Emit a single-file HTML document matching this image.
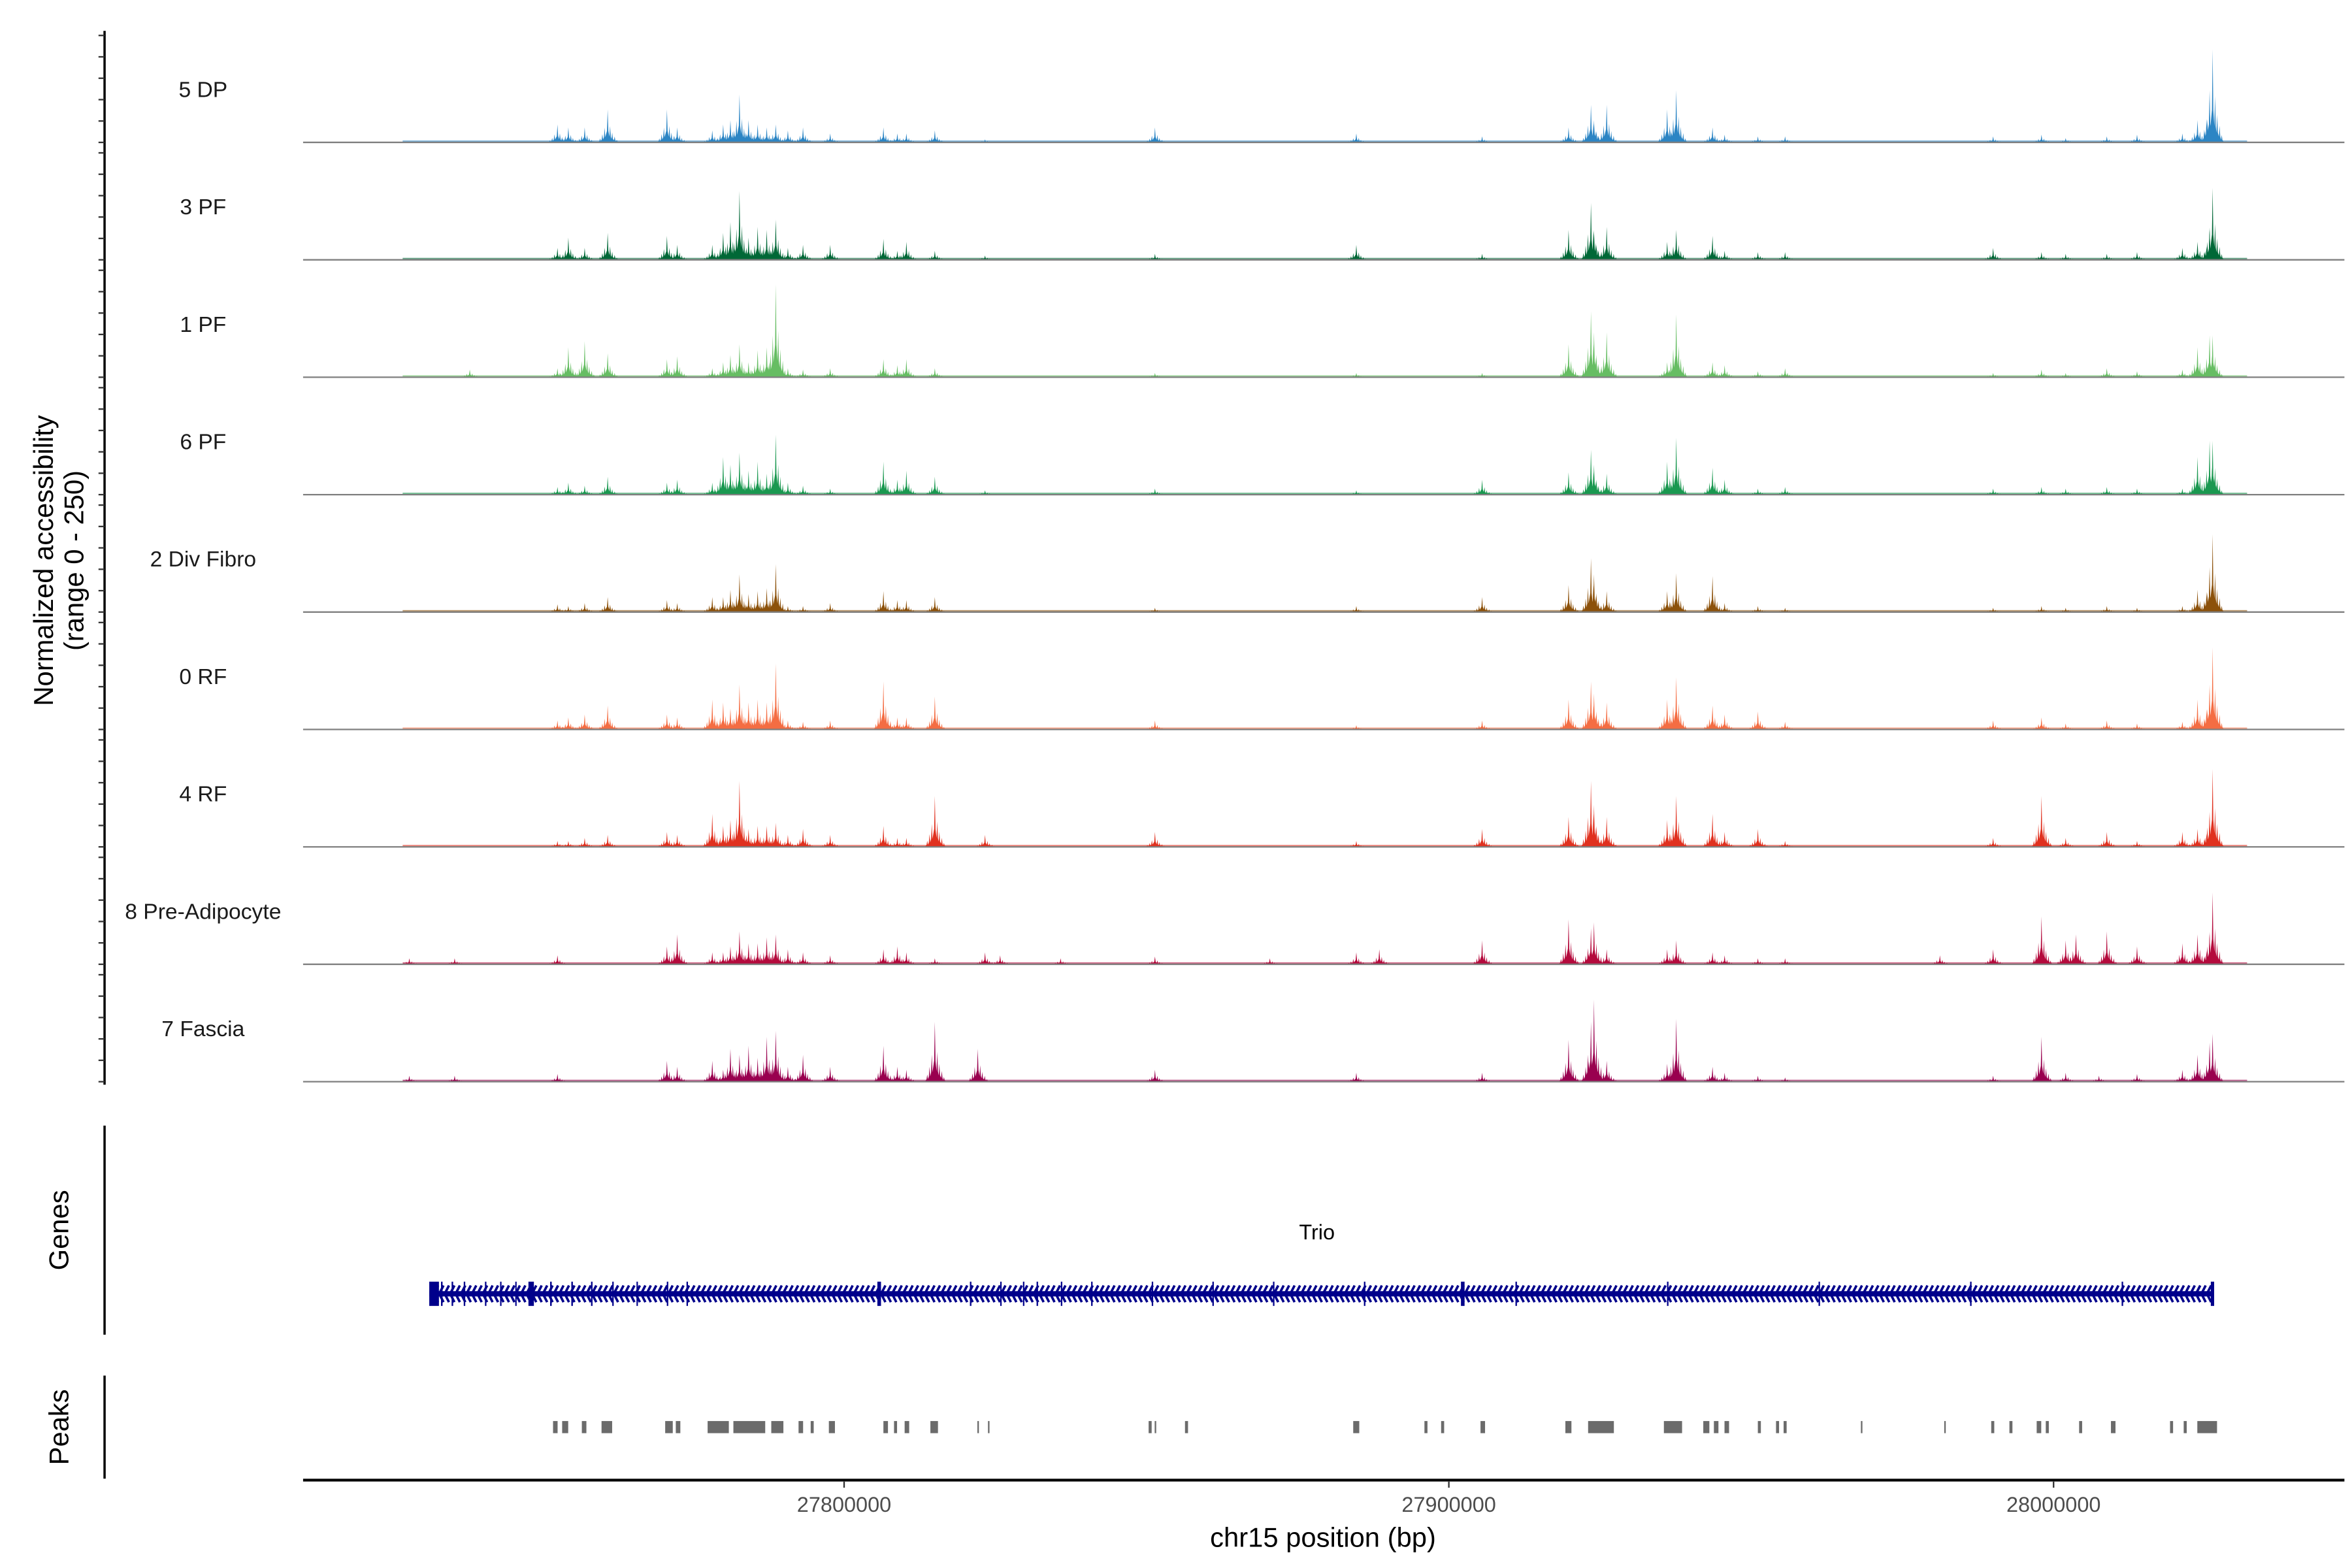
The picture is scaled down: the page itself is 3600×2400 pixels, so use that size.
<!DOCTYPE html>
<html><head><meta charset="utf-8"><title>Trio accessibility tracks</title>
<style>
html,body{margin:0;padding:0;background:#fff;}
svg{display:block;}
text{font-family:"Liberation Sans",Arial,sans-serif;}
</style></head>
<body>
<svg id="chart" width="3600" height="2400" viewBox="0 0 1552 1035" preserveAspectRatio="none" xmlns="http://www.w3.org/2000/svg">
<rect x="0" y="0" width="1552" height="1035" fill="#fff"/>
<g id="tracks"></g>
<g id="yaxis"></g>
<text transform="translate(35,370) rotate(-90)" text-anchor="middle" font-size="18" fill="#000">Normalized accessibility</text>
<text transform="translate(55,370) rotate(-90)" text-anchor="middle" font-size="18" fill="#000">(range 0 - 250)</text>
<line x1="69" y1="743" x2="69" y2="881" stroke="#000" stroke-width="1.5"/>
<text transform="translate(45,812) rotate(-90)" text-anchor="middle" font-size="18" fill="#000">Genes</text>
<line x1="69" y1="908" x2="69" y2="976" stroke="#000" stroke-width="1.5"/>
<text transform="translate(45,942) rotate(-90)" text-anchor="middle" font-size="18" fill="#000">Peaks</text>
<g id="gene"></g>
<text x="869" y="818" text-anchor="middle" font-size="14" fill="#000">Trio</text>
<g id="peaks"></g>
<g id="xaxis"></g>
<text x="873" y="1021" text-anchor="middle" font-size="18" fill="#000">chr15 position (bp)</text>
</svg>
<script>
const NS = "http://www.w3.org/2000/svg";
const trackNames = ["5 DP","3 PF","1 PF","6 PF","2 Div Fibro","0 RF","4 RF","8 Pre-Adipocyte","7 Fascia"];
const trackColors = ["#2c85c4","#006837","#66bd63","#1a9850","#8c510a","#f46d43","#e0311f","#b40a3c","#99004f"];
const peakPositions = [27728100,27735600,27738100,27752600,27754400,27757100,27760900,27770700,27772400,27778200,27780000,27781200,27782700,27784200,27785700,27787200,27788700,27790700,27793200,27797700,27806500,27808800,27810300,27815000,27822100,27823300,27825800,27835800,27851400,27870400,27884700,27888500,27905500,27919800,27923500,27924000,27926100,27936100,27937600,27943600,27945600,27951100,27955600,27981200,27990000,27998000,28002000,28003700,28007500,28008800,28013800,28021300,28023800,28025800,28026300];
const valsDP = [0,0,0,42,35,35,77,77,35,28,42,52,112,52,42,35,42,28,35,21,35,21,21,28,0,7,0,0,35,0,21,0,14,35,88,52,88,77,122,35,18,14,14,0,14,18,10,0,0,14,18,21,52,122,217];
const valsPF3 = [0,0,0,28,52,28,63,56,35,35,63,88,161,52,77,70,94,28,35,35,49,21,42,21,0,10,0,0,14,0,35,0,14,70,133,70,77,42,70,56,21,18,18,0,28,18,14,0,0,14,18,28,42,70,168];
const valsPF1 = [0,0,18,21,70,84,56,42,49,21,35,52,77,35,63,70,217,21,18,21,42,28,42,21,0,0,0,0,10,0,10,0,10,77,154,105,105,35,147,35,28,14,21,0,10,18,10,0,0,21,14,18,70,98,98];
const valsPF6 = [0,0,0,18,28,21,42,28,35,28,88,70,98,56,77,49,140,28,21,14,77,35,56,42,0,10,0,0,14,0,10,0,35,52,105,70,49,77,133,63,35,14,18,0,14,18,14,0,0,18,14,14,88,126,126];
const valsDiv = [0,0,0,18,14,21,35,28,21,35,35,52,88,42,49,56,112,14,14,21,49,28,28,35,0,0,0,0,10,0,14,0,35,63,126,88,49,49,91,84,21,14,10,0,10,14,10,0,0,14,10,14,52,105,182];
const valsRF0 = [0,0,0,21,28,35,56,35,28,70,63,49,105,63,70,63,154,21,18,21,112,28,28,77,0,0,0,0,21,0,10,0,21,70,112,84,63,70,122,56,35,42,18,0,21,28,14,0,0,21,14,18,70,105,192];
const valsRF4 = [0,0,0,14,14,21,28,35,28,77,49,63,154,42,49,49,56,28,42,28,49,21,21,119,0,28,0,0,35,0,14,0,42,70,154,98,70,63,119,77,35,42,14,0,21,119,21,0,0,35,14,35,42,70,182];
const valsPre = [14,14,0,21,0,0,0,42,70,28,28,42,77,49,49,63,70,35,28,21,35,42,28,14,0,28,21,14,18,14,28,35,56,105,84,98,35,35,56,28,21,14,14,21,35,112,56,70,0,77,42,49,70,70,168];
const valsFascia = [14,14,0,18,0,0,0,49,35,49,28,77,63,84,56,105,119,35,63,35,84,35,28,140,77,0,0,0,28,0,21,0,21,98,140,192,49,42,147,35,21,14,10,0,14,105,21,0,14,0,18,28,63,91,112];
const trackValues = [valsDP,valsPF3,valsPF1,valsPF6,valsDiv,valsRF0,valsRF4,valsPre,valsFascia];
const geneStart = 27731400, geneEnd = 28026300;
const exonStarts = [27731400,27733340,27735095,27737100,27740608,27743114,27745620,27747800,27751384,27754890,27758150,27761658,27765668,27770680,27773936,27805500,27820800,27825810,27829570,27831826,27835836,27840846,27850870,27860894,27870918,27885954,27902000,27911014,27936074,27961134,27986194,28011254,28026000];
const exonEnds   = [27733000,27733600,27735350,27737350,27740850,27743350,27745850,27748700,27751650,27755150,27758400,27761900,27765900,27770920,27774180,27806100,27821050,27826050,27829810,27832070,27836080,27841090,27851110,27861140,27871160,27886200,27902600,27911260,27936320,27961380,27986440,28011500,28026500];
const thickExon = [1,0,0,0,0,0,0,1,0,0,0,0,0,0,0,1,0,0,0,0,0,0,0,0,0,0,1,0,0,0,0,0,1];
const peakStarts = [27751869,27753373,27756630,27759888,27770413,27772168,27777430,27781690,27787955,27792466,27794471,27797478,27806500,27808254,27810008,27814268,27822037,27823791,27850355,27851357,27856369,27884186,27895964,27898721,27905236,27919270,27923029,27935559,27942074,27943829,27945583,27951096,27954103,27955356,27968137,27981920,27989688,27992696,27997206,27998710,28004223,28009486,28019259,28021515,28023770];
const peakEnds   = [27752621,27754375,27757382,27761642,27771666,27772919,27780939,27786953,27789960,27793218,27794972,27798481,27807252,27808755,27810760,27815521,27822288,27824042,27850856,27851608,27856870,27885188,27896465,27899222,27905988,27920272,27927289,27938566,27943077,27944580,27946335,27951597,27954604,27955857,27968387,27982170,27990190,27993197,27997958,27999211,28004724,28010238,28019760,28022016,28027028];
const xTicks = [27800000,27900000,28000000];
const xTickLabels = ["27800000","27900000","28000000"];

const X0 = 200, X1 = 1547, D0 = 27710536, D1 = 28048094;
function xScale(bp){ return X0 + (bp - D0) / (D1 - D0) * (X1 - X0); }
const panelH = 70.6, trackStep = 77.5, firstBase = 94;
function baseY(i){ return firstBase + i * trackStep; }
function yScale(v, i){ return baseY(i) - v / 250 * panelH; }

function mk(tag, attrs, parent){ const e = document.createElementNS(NS, tag); for (const k in attrs) e.setAttribute(k, attrs[k]); parent.appendChild(e); return e; }

// spike cluster shape (styling only): relative offsets (px) and height fractions
const spikeOff = [-5,-3.5,-2,0,1.6,3,4.6,6];
const spikeFrac = [0.12,0.25,0.45,1,0.5,0.3,0.18,0.08];

const tracks = document.getElementById('tracks');
trackValues.forEach((vals, i) => {
  const g = mk('g', {}, tracks);
  
  
  const b = baseY(i);
  const lab = mk('text', {x: 134, y: b - 30, 'text-anchor': 'middle', 'font-size': 14.5, fill: '#1a1a1a'}, g);
  lab.textContent = trackNames[i];
  
  
  const floor = mk('rect', {x: xScale(27727000), y: b - 1.3, width: xScale(28032000) - xScale(27727000), height: 1.3, fill: trackColors[i], opacity: 0.6}, g);
  
  
  vals.forEach((v, j) => {
    if (v <= 0) return;
    const x = xScale(peakPositions[j]);
    const pts = [[x + spikeOff[0] - 1.5, b]];
    spikeOff.forEach((o, k) => {
      const h = yScale(v * spikeFrac[k], i);
      pts.push([x + o - 0.45, b - (b - h) * 0.35]);
      pts.push([x + o, h]);
      pts.push([x + o + 0.45, b - (b - h) * 0.35]);
    });
    pts.push([x + spikeOff[spikeOff.length - 1] + 1.5, b]);
    const p = mk('polygon', {points: pts.map(q => q.join(',')).join(' '), fill: trackColors[i]}, g);
    
    
  });
  const bl = mk('line', {x1: X0, y1: b, x2: X1, y2: b, stroke: '#7f7f7f', 'stroke-width': 1}, g);
  
  
});

const yaxis = document.getElementById('yaxis');
const yl = mk('line', {x1: 69, y1: baseY(0) - panelH - 3, x2: 69, y2: baseY(8) + 2, stroke: '#000', 'stroke-width': 1.5}, yaxis);


for (let i = 0; i < trackNames.length; i++) {
  for (let k = 0; k <= 5; k++) {
    const y = yScale(k * 50, i);
    const t = mk('line', {x1: 65, y1: y, x2: 69, y2: y, stroke: '#333', 'stroke-width': 1}, yaxis);
    
    
  }
}

const gene = document.getElementById('gene');
const gy = 854;
const gx0 = xScale(geneStart), gx1 = xScale(geneEnd);
let d = '';
for (let x = gx0 + 3; x < gx1 - 1; x += 3.6) { d += 'M' + (x + 2.8) + ',' + (gy - 5.5) + 'L' + x + ',' + gy + 'L' + (x + 2.8) + ',' + (gy + 5.5); }
const chev = mk('path', {d: d, stroke: '#00008b', 'stroke-width': 1.6, fill: 'none'}, gene);


const gl = mk('line', {x1: gx0, y1: gy, x2: gx1, y2: gy, stroke: '#00008b', 'stroke-width': 3.5}, gene);


exonStarts.forEach((s, j) => {
  const x = xScale(s), w = Math.max(thickExon[j] ? 2.2 : 0.6, xScale(exonEnds[j]) - x);
  const r = mk('rect', {x: x, y: gy - 8, width: w, height: 16, fill: '#00008b'}, gene);
  
  
});

const peaks = document.getElementById('peaks');
peakStarts.forEach((s, j) => {
  const x = xScale(s), w = Math.max(0.8, xScale(peakEnds[j]) - x);
  const r = mk('rect', {x: x, y: 938, width: w, height: 8, fill: '#6b6b6b'}, peaks);
  
  
});

const xaxis = document.getElementById('xaxis');
const xl = mk('line', {x1: X0, y1: 977, x2: X1, y2: 977, stroke: '#000', 'stroke-width': 1.8}, xaxis);


xTicks.forEach((t, j) => {
  const x = xScale(t);
  const tk = mk('line', {x1: x, y1: 978, x2: x, y2: 982, stroke: '#333', 'stroke-width': 1}, xaxis);
  
  
  const lb = mk('text', {x: x, y: 998, 'text-anchor': 'middle', 'font-size': 14, fill: '#4d4d4d'}, xaxis);
  lb.textContent = xTickLabels[j];
  
  
});
</script>
</body></html>
